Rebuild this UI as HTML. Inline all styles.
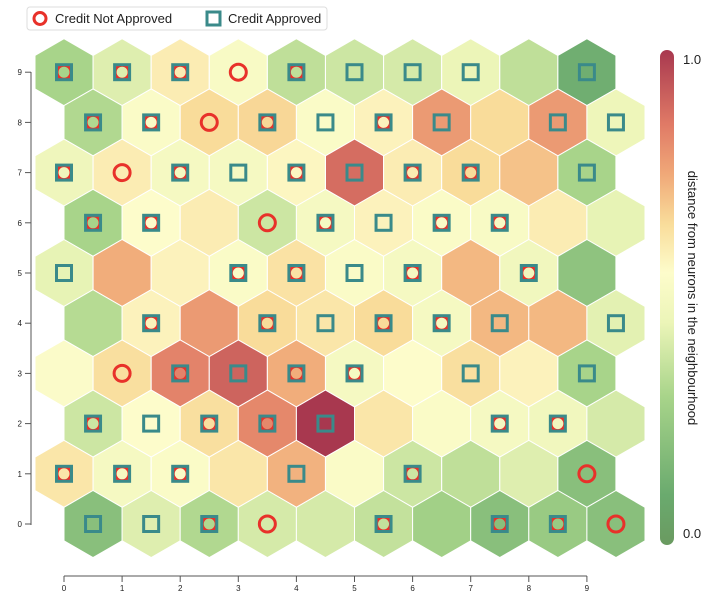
<!DOCTYPE html>
<html><head><meta charset="utf-8"><style>
body{margin:0;background:#fff;font-family:"Liberation Sans",sans-serif}
svg text{font-family:"Liberation Sans",sans-serif}
</style></head><body>
<svg id="chart" width="709" height="600" xmlns="http://www.w3.org/2000/svg">
<defs><linearGradient id="cb" x1="0" y1="1" x2="0" y2="0">
<stop offset="0" stop-color="#6a9a60"/><stop offset="0.1" stop-color="#6aaa6e"/><stop offset="0.3" stop-color="#a8d48a"/><stop offset="0.45" stop-color="#ecf5b8"/><stop offset="0.55" stop-color="#fdfccb"/><stop offset="0.65" stop-color="#f9dc9a"/><stop offset="0.75" stop-color="#f0a878"/><stop offset="0.85" stop-color="#e07a66"/><stop offset="1" stop-color="#a8384f"/>
</linearGradient></defs>
<g id="hexes"></g>
<g id="axes"></g>
<rect x="660" y="50" width="14" height="495" rx="7" fill="url(#cb)"/>
<text x="683" y="64" font-size="13" fill="#222">1.0</text>
<text x="683" y="538" font-size="13" fill="#222">0.0</text>
<text transform="translate(688,298) rotate(90)" text-anchor="middle" font-size="13" fill="#222">distance from neurons in the neighbourhood</text>
<g>
<rect x="27" y="7" width="300" height="23" fill="#fff" stroke="#ddd" rx="3"/>
<circle cx="40" cy="18.5" r="6" fill="none" stroke="#e8312a" stroke-width="3"/>
<text x="55" y="23" font-size="13" fill="#222">Credit Not Approved</text>
<rect x="207" y="12" width="13" height="13" fill="none" stroke="#3a8a8a" stroke-width="3"/>
<text x="228" y="23" font-size="13" fill="#222">Credit Approved</text>
</g>
</svg>
<script>
// rows from y=9 (top) to y=0
const rowsY=[9,8,7,6,5,4,3,2,1,0];
const values=[
[0.3,0.42,0.6,0.52,0.35,0.38,0.4,0.45,0.35,0.12],
[0.32,0.53,0.65,0.66,0.53,0.58,0.78,0.65,0.78,0.46],
[0.47,0.6,0.5,0.5,0.57,0.88,0.6,0.65,0.7,0.3],
[0.3,0.55,0.6,0.38,0.5,0.58,0.53,0.52,0.6,0.44],
[0.44,0.74,0.58,0.53,0.63,0.53,0.5,0.72,0.48,0.22],
[0.33,0.58,0.78,0.65,0.62,0.65,0.5,0.72,0.72,0.43],
[0.54,0.64,0.83,0.9,0.74,0.5,0.55,0.64,0.58,0.3],
[0.38,0.55,0.64,0.82,1.0,0.62,0.53,0.5,0.48,0.4],
[0.62,0.5,0.53,0.62,0.73,0.53,0.38,0.35,0.42,0.2],
[0.2,0.42,0.32,0.4,0.4,0.36,0.28,0.2,0.25,0.2]];
// B both, C circle only, S square only, N none
const markers=[
"BBBCBSSSNS","BBCBSBSNSS","BCBSBSBBNS","BBNCBSBBNN","SNNBBSBNBN",
"NBNBSBBSNS","NCBSBBNSNS","BSBBSNNBBN","BBBNSNBNNC","SSBCNBNBBC"];
const xTicks=[0,1,2,3,4,5,6,7,8,9];
const yTicks=[0,1,2,3,4,5,6,7,8,9];
const stops=[[0,"#6a9a60"],[0.1,"#6aaa6e"],[0.3,"#a8d48a"],[0.45,"#ecf5b8"],[0.55,"#fdfccb"],[0.65,"#f9dc9a"],[0.75,"#f0a878"],[0.85,"#e07a66"],[1,"#a8384f"]];
function hex2(c){return [1,3,5].map(i=>parseInt(c.substr(i,2),16));}
function color(v){for(let i=1;i<stops.length;i++){if(v<=stops[i][0]){const a=stops[i-1],b=stops[i];const t=(v-a[0])/(b[0]-a[0]);const ca=hex2(a[1]),cb=hex2(b[1]);return "rgb("+ca.map((c,k)=>Math.round(c+(cb[k]-c)*t)).join(",")+")";}}return stops[stops.length-1][1];}
const sx=x=>64+58.1*x, sy=y=>524-50.2*y;
const R=33.5, NS="http://www.w3.org/2000/svg";
const hg=document.getElementById('hexes'), ag=document.getElementById('axes');
function mk(t,a,p){const e=document.createElementNS(NS,t);for(const k in a)e.setAttribute(k,a[k]);p.appendChild(e);return e;}
rowsY.forEach((yy,ri)=>{
 values[ri].forEach((v,c)=>{
  const xx=c+(yy%2===0?0.5:0);
  const cx=sx(xx),cy=sy(yy);
  let pts=[];for(let k=0;k<6;k++){const a=Math.PI/180*(60*k-90);pts.push((cx+R*Math.cos(a)).toFixed(1)+","+(cy+R*Math.sin(a)).toFixed(1));}
  const h=mk('polygon',{points:pts.join(' '),fill:color(v),stroke:'#fff','stroke-width':1},hg);
  
  
  const m=markers[ri][c];
  if(m==='B'||m==='C'){const ci=mk('circle',{cx:cx,cy:cy,r:m==='C'?8:7,fill:'none',stroke:'#e8312a','stroke-width':3},hg);
   
   }
  if(m==='B'||m==='S'){const s=mk('rect',{x:cx-7.5,y:cy-7.5,width:15,height:15,fill:'none',stroke:'#3a8a8a','stroke-width':3},hg);
   
   }
 });
});
// y axis
const yl=mk('line',{x1:31,y1:72,x2:31,y2:525,stroke:'#555'},ag);


yTicks.forEach(t=>{mk('line',{x1:25,x2:31,y1:sy(t),y2:sy(t),stroke:'#555'},ag);
 const tx=mk('text',{x:22,y:sy(t)+3,'font-size':8,'text-anchor':'end',fill:'#222'},ag);tx.textContent=t;
 
 });
const xl=mk('line',{x1:sx(0),y1:576,x2:sx(9),y2:576,stroke:'#555'},ag);


xTicks.forEach(t=>{mk('line',{x1:sx(t),x2:sx(t),y1:576,y2:582,stroke:'#555'},ag);
 const tx=mk('text',{x:sx(t),y:591,'font-size':8,'text-anchor':'middle',fill:'#222'},ag);tx.textContent=t;
 
 });
</script>
</body></html>
